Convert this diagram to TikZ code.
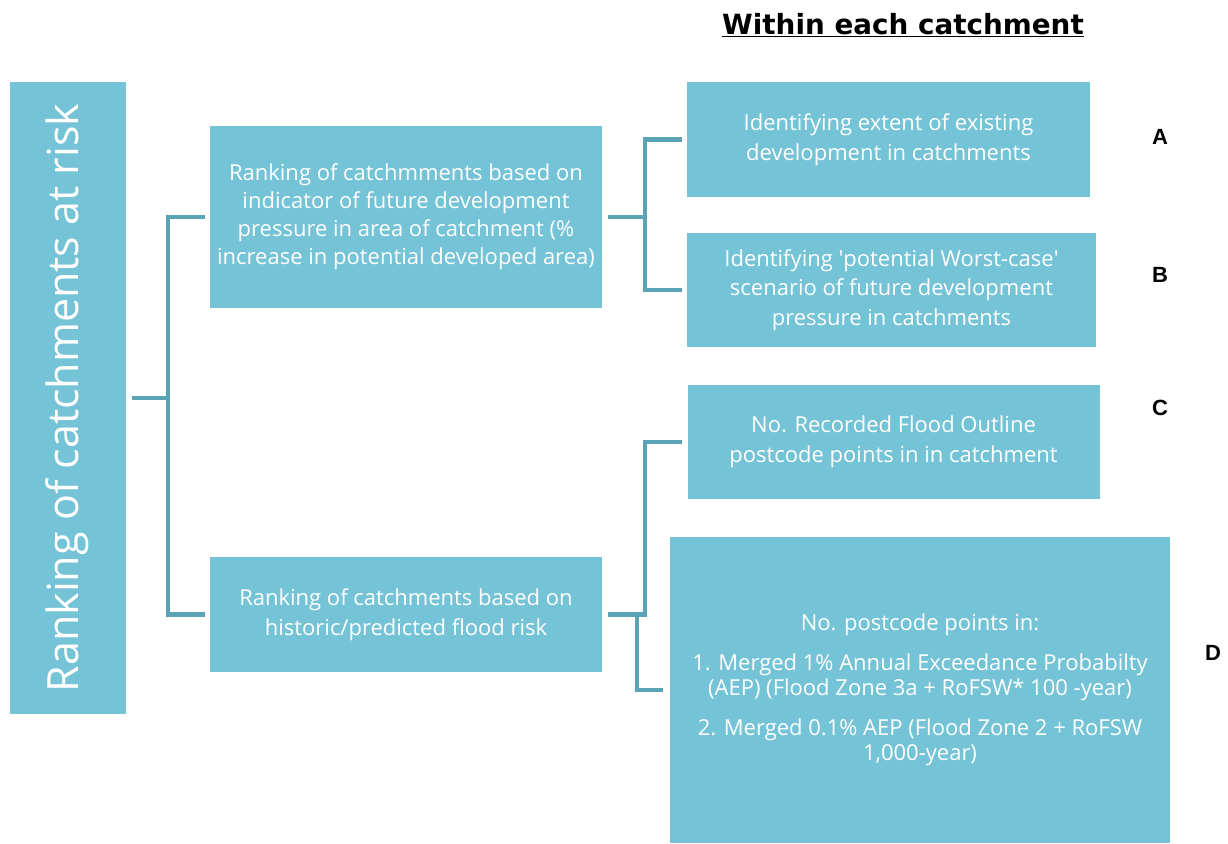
\documentclass[tikz,border=0pt]{standalone}
\usepackage{fontspec}
\setmainfont{Open Sans}
\newfontfamily\headfont{DejaVu Sans}
\newfontfamily\tagfont{Liberation Sans}
\usetikzlibrary{positioning}
\definecolor{box-fill}{HTML}{74C3D6}
\definecolor{link-line}{HTML}{5AA3B4}
\tikzset{
  stage/.style={
    fill=box-fill, text=white, inner sep=0pt, align=center,
    font=\fontsize{22}{29.5}\selectfont
  },
  link/.style={draw=link-line, line width=4.5pt, line join=miter},
  tag/.style={font=\tagfont\bfseries\fontsize{22}{22}\selectfont, text=black}
}
\begin{document}
\begin{tikzpicture}[x=1pt, y=-1pt]
  \useasboundingbox (0,0) rectangle (1228,843);

  % ---- Heading over the right-hand column --------------------------------
  \node[font=\headfont\bfseries\fontsize{27.8}{28}\selectfont] (head) at (903,25)
    {\underline{Within each catchment}};

  % ---- Overall ranking, tall box on the left -----------------------------
  \node[stage, minimum width=116pt, minimum height=632pt] (rank) at (67.5,398) {};
  \node[rotate=90, text=white, font=\fontsize{43}{43}\selectfont] (ranktxt)
    at (rank.center) {Ranking of catchments at risk};

  % ---- Two ranking criteria ----------------------------------------------
  \node[stage, minimum width=392pt, minimum height=182pt,
        font=\fontsize{22}{28}\selectfont] (dev) at (406,217)
    {Ranking of catchmments based on\\indicator of future development\\
     pressure in area of catchment (\%\\increase in potential developed area)};
  \node[stage, minimum width=392pt, minimum height=115pt] (flood) at (406,614.5)
    {Ranking of catchments based on\\historic/predicted flood risk};

  % ---- Steps A to D ------------------------------------------------------
  \node[stage, minimum width=403pt, minimum height=115pt] (exist) at (888.5,139.5)
    {Identifying extent of existing\\development in catchments};
  \node[stage, minimum width=409pt, minimum height=114pt] (worst) at (891.5,290)
    {Identifying \textquotesingle potential Worst-case\textquotesingle\\
     scenario of future development\\pressure in catchments};
  \node[stage, minimum width=412pt, minimum height=114pt] (record) at (893.5,442)
    {No. Recorded Flood Outline\\postcode points in in catchment};
  \node[stage, minimum width=500pt, minimum height=306pt,
        font=\fontsize{22}{25.5}\selectfont] (aep) at (920,690)
    {No. postcode points in:\\[14pt]
     1. Merged 1\% Annual Exceedance Probabilty\\
     (AEP) (Flood Zone 3a + RoFSW* 100 -year)\\[14pt]
     2. Merged 0.1\% AEP (Flood Zone 2 + RoFSW\\1,000-year)};

  \node[tag] (tagA) at (1160,137) {A};
  \node[tag] (tagB) at (1160,275) {B};
  \node[tag] (tagC) at (1160,408) {C};
  \node[tag] (tagD) at (1213,653) {D};

  % ---- Bracket connectors ------------------------------------------------
  \draw[link] ([xshift=6pt]rank.east) -- ++(37,0);
  \draw[link] ([xshift=-5pt]dev.west) -- ++(-37,0) |- ([xshift=-5pt]flood.west);

  \draw[link] ([xshift=6pt]dev.east) -- ++(37,0);
  \draw[link] ([xshift=-5pt]exist.west) -- ++(-37,0) |- ([xshift=-5pt]worst.west);

  \draw[link] ([xshift=6pt]flood.east) -- ++(37,0) |- ([xshift=-5pt]record.west);
  \draw[link] ([xshift=-7pt]aep.west) -| ([xshift=35pt]flood.east);

\end{tikzpicture}
\end{document}
